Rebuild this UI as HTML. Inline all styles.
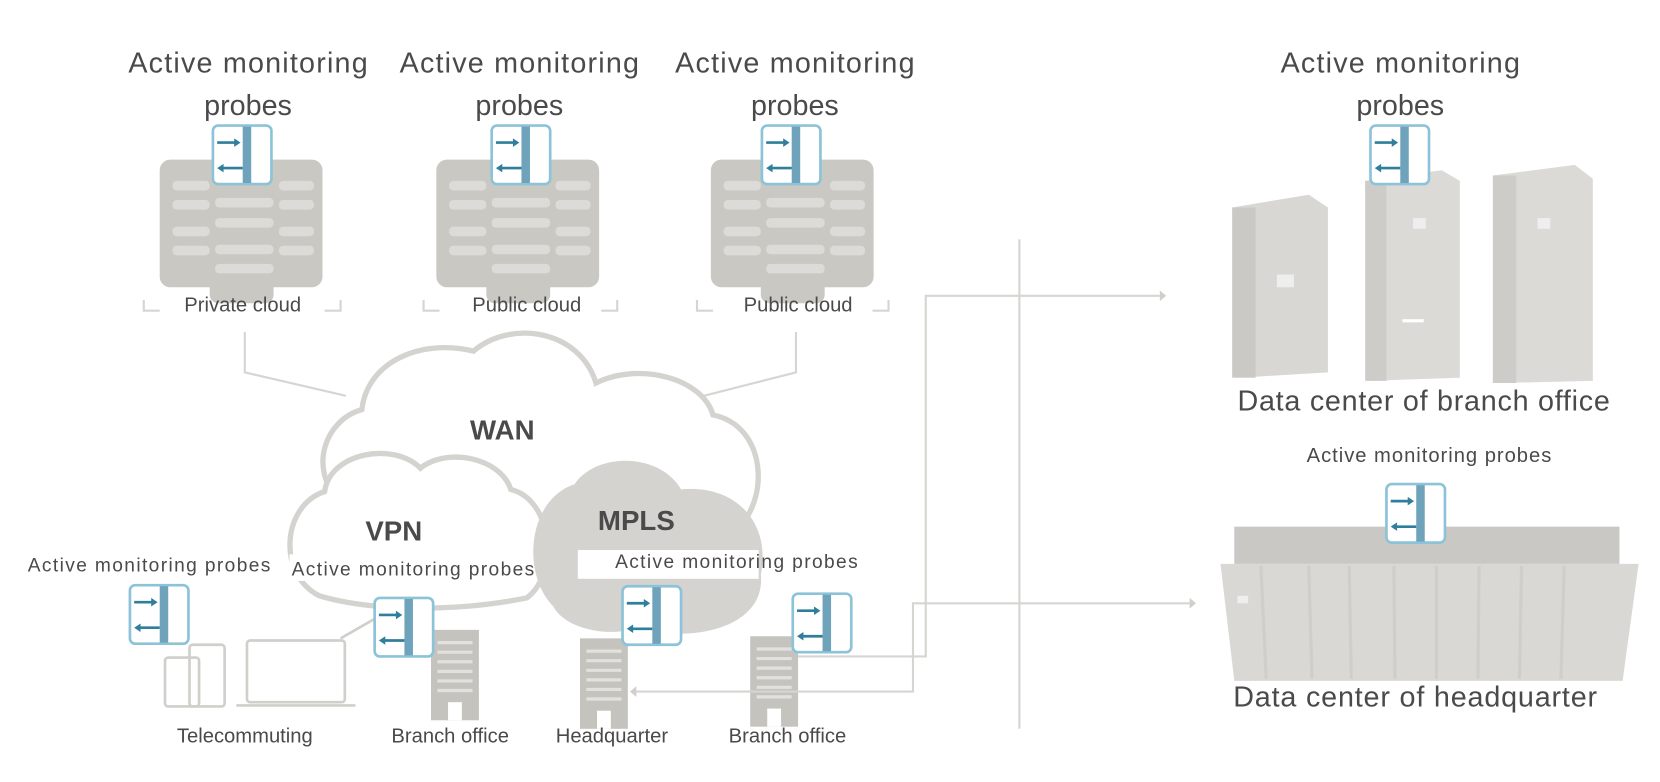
<!DOCTYPE html>
<html><head><meta charset="utf-8"><style>
html,body{margin:0;padding:0;background:#fff;width:1660px;height:782px;overflow:hidden}
svg{display:block}
text{font-family:"Liberation Sans",sans-serif;fill:#4a4a4a}
</style></head><body>
<svg width="1660" height="782" viewBox="0 0 1560 735" xmlns="http://www.w3.org/2000/svg">
<defs>
<g id="probe">
<rect x="0" y="0" width="55" height="55" rx="5" fill="#fff" stroke="#8cc3d8" stroke-width="2.5"/>
<rect x="28" y="1" width="8" height="53" fill="#6fa3bb"/>
<line x1="4" y1="16" x2="24" y2="16" stroke="#2f7e9c" stroke-width="2.5"/><path d="M26 16 l-6 -4 v8z" fill="#2f7e9c"/>
<line x1="8" y1="40" x2="28" y2="40" stroke="#2f7e9c" stroke-width="2.5"/><path d="M4 40 l6 -4 v8z" fill="#2f7e9c"/>
</g>
<g id="rack">
<rect x="0" y="0" width="153" height="120" rx="10" fill="#c9c8c3"/>
<rect x="47" y="0" width="60" height="135" rx="8" fill="#c9c8c3"/>
<g fill="#dcdbd7">
<rect x="12" y="20" width="35" height="9" rx="4"/><rect x="12" y="38" width="35" height="9" rx="4"/><rect x="12" y="63" width="35" height="9" rx="4"/><rect x="12" y="81" width="35" height="9" rx="4"/>
<rect x="52" y="36" width="55" height="9" rx="4"/><rect x="52" y="55" width="55" height="9" rx="4"/><rect x="52" y="80" width="55" height="9" rx="4"/><rect x="52" y="98" width="55" height="9" rx="4"/>
<rect x="112" y="20" width="33" height="9" rx="4"/><rect x="112" y="38" width="33" height="9" rx="4"/><rect x="112" y="63" width="33" height="9" rx="4"/><rect x="112" y="81" width="33" height="9" rx="4"/>
</g>
</g>
<g id="bldg">
<rect x="0" y="0" width="45" height="85" fill="#c4c3be"/>
<g stroke="#e2e1dd" stroke-width="3"><line x1="6" y1="12" x2="39" y2="12"/><line x1="6" y1="21" x2="39" y2="21"/><line x1="6" y1="30" x2="39" y2="30"/><line x1="6" y1="39" x2="39" y2="39"/><line x1="6" y1="48" x2="39" y2="48"/><line x1="6" y1="57" x2="39" y2="57"/></g>
<rect x="16" y="68" width="13" height="17" fill="#fff"/>
</g>
</defs>

<g font-size="27" text-anchor="middle">
<text x="233" y="68" textLength="225">Active monitoring</text><text x="233" y="108">probes</text>
<text x="488" y="68" textLength="225">Active monitoring</text><text x="488" y="108">probes</text>
<text x="747" y="68" textLength="225">Active monitoring</text><text x="747" y="108">probes</text>
<text x="1316" y="68" textLength="225">Active monitoring</text><text x="1316" y="108">probes</text>
</g>

<use href="#rack" x="150" y="150"/><use href="#rack" x="410" y="150"/><use href="#rack" x="668" y="150"/>
<use href="#probe" x="200" y="118"/><use href="#probe" x="462" y="118"/><use href="#probe" x="716" y="118"/>

<g fill="none" stroke="#d6d5d1" stroke-width="2">
<path d="M135 282v10h15M305 292h15v-10"/><path d="M398 282v10h15M565 292h15v-10"/><path d="M655 282v10h15M820 292h15v-10"/>
<path d="M230 312v38l95 22"/><path d="M495 312v20"/><path d="M748 312v38l-118 30"/>
</g>
<g font-size="19" text-anchor="middle">
<text x="228" y="293">Private cloud</text><text x="495" y="293">Public cloud</text><text x="750" y="293">Public cloud</text>
</g>

<path d="M318 470 C290 440 305 395 340 385 C345 340 395 318 445 330 C480 300 545 310 560 360 C600 340 660 355 670 390 C720 400 725 470 690 500 L330 510Z" fill="#fff" stroke="#d4d3cf" stroke-width="5"/>
<path d="M300 560 C260 540 265 475 305 462 C310 425 370 415 395 440 C420 420 470 430 480 460 C520 470 525 540 495 562 C430 575 350 575 300 560Z" fill="#fff" stroke="#d4d3cf" stroke-width="5"/>
<path d="M520 570 C490 540 495 470 540 455 C560 425 620 425 640 460 C690 455 725 490 715 540 C720 590 650 605 600 590 C570 600 530 590 520 570Z" fill="#d4d3cf"/>
<g font-weight="bold" text-anchor="middle">
<text x="472" y="413" font-size="26" fill="#111">WAN</text>
<text x="370" y="508" font-size="26" fill="#111">VPN</text>
<text x="598" y="498" font-size="26" fill="#111">MPLS</text>
</g>
<rect x="543" y="517" width="170" height="27" fill="#fff"/>
<rect x="272" y="521" width="228" height="25" fill="#fff"/>
<g font-size="18" text-anchor="middle">
<text x="140" y="537" textLength="228">Active monitoring probes</text>
<text x="388" y="541" textLength="228">Active monitoring probes</text>
<text x="692" y="534" textLength="228">Active monitoring probes</text>
</g>

<g fill="none" stroke="#d0cfcb" stroke-width="2.5">
<rect x="155" y="618" width="32" height="46" rx="3"/>
<rect x="178" y="606" width="33" height="58" rx="3"/>
<rect x="232" y="602" width="92" height="58" rx="3"/>
<line x1="222" y1="663" x2="334" y2="663"/>
<line x1="320" y1="600" x2="355" y2="580"/>
</g>
<use href="#bldg" x="405" y="592"/><use href="#bldg" x="545" y="600"/><use href="#bldg" x="705" y="598"/>
<use href="#probe" x="122" y="550"/><use href="#probe" x="352" y="562"/><use href="#probe" x="585" y="551"/><use href="#probe" x="745" y="558"/>

<g font-size="19" text-anchor="middle">
<text x="230" y="698">Telecommuting</text><text x="423" y="698">Branch office</text><text x="575" y="698">Headquarter</text><text x="740" y="698">Branch office</text>
</g>

<g fill="none" stroke="#d6d5d1" stroke-width="2">
<line x1="958" y1="225" x2="958" y2="685"/>
<path d="M750 617H870V278H1090"/>
<path d="M598 650H858V567H1118"/>
</g>
<path d="M1090 273l6 5-6 5z M1118 562l6 5-6 5z M598 645l-6 5 6 5z" fill="#d0cfcb"/>

<path d="M1158 195 L1230 183 L1248 195 L1248 350 L1165 355 Z" fill="#d8d7d3"/>
<rect x="1158" y="195" width="22" height="160" fill="#cac9c5"/>
<rect x="1200" y="258" width="16" height="12" fill="#eee"/>
<path d="M1283 170 L1355 160 L1372 170 L1372 355 L1287 358 Z" fill="#dbdad6"/>
<rect x="1283" y="170" width="20" height="188" fill="#cdccc8"/>
<rect x="1328" y="205" width="12" height="10" fill="#eee"/><rect x="1318" y="300" width="20" height="3" fill="#fff"/>
<path d="M1403 165 L1480 155 L1497 168 L1497 358 L1408 360 Z" fill="#dbdad6"/>
<rect x="1403" y="165" width="22" height="195" fill="#cdccc8"/>
<rect x="1445" y="205" width="12" height="10" fill="#eee"/>
<use href="#probe" x="1288" y="118"/>
<text x="1338" y="386" font-size="27" text-anchor="middle" textLength="350">Data center of branch office</text>
<text x="1343" y="434" font-size="19" text-anchor="middle" textLength="230">Active monitoring probes</text>

<rect x="1160" y="495" width="362" height="35" fill="#c9c8c4"/>
<path d="M1147 530 L1540 530 L1525 640 L1160 640 Z" fill="#d9d8d4"/>
<g stroke="#cfceca" stroke-width="3">
<line x1="1185" y1="532" x2="1190" y2="638"/><line x1="1230" y1="532" x2="1233" y2="638"/><line x1="1268" y1="532" x2="1270" y2="638"/><line x1="1310" y1="532" x2="1311" y2="638"/><line x1="1350" y1="532" x2="1350" y2="638"/><line x1="1390" y1="532" x2="1389" y2="638"/><line x1="1430" y1="532" x2="1428" y2="638"/><line x1="1470" y1="532" x2="1467" y2="638"/>
</g>
<rect x="1163" y="560" width="10" height="7" fill="#eee"/>
<use href="#probe" x="1303" y="455"/>
<text x="1330" y="664" font-size="27" text-anchor="middle" textLength="342">Data center of headquarter</text>
</svg>
</body></html>
